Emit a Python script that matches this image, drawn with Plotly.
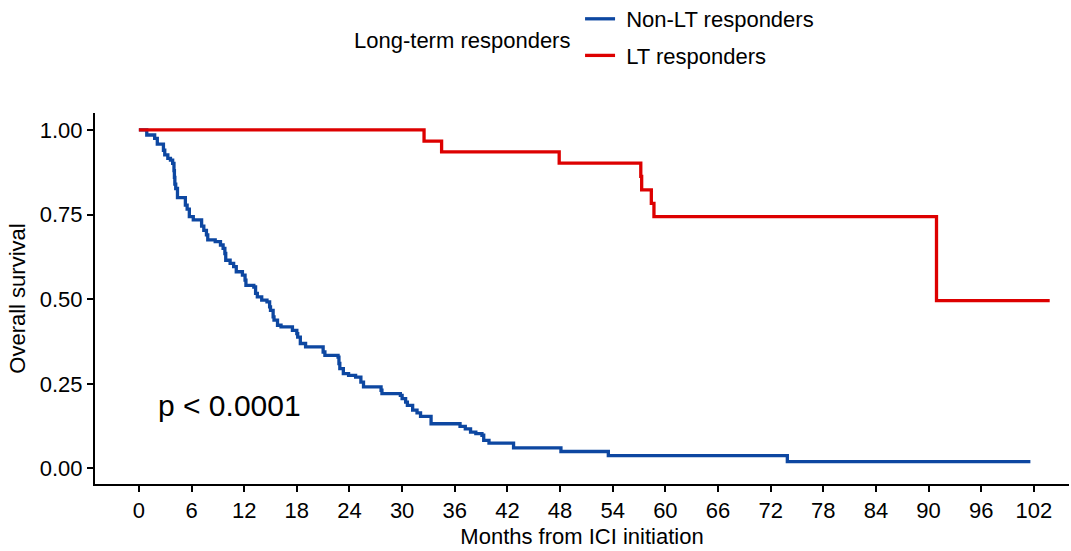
import plotly.graph_objects as go

# Kaplan-Meier step data
blue_time = [0, 0.9, 1.8, 2.1, 2.8, 2.95, 3.3, 3.6, 3.85, 4.0, 4.05, 4.1, 4.2, 4.4,
             5.3, 5.5, 5.75, 6.2, 7.15, 7.4, 7.7, 7.85, 8.7, 9.3, 9.6, 9.8, 9.9,
             10.4, 10.8, 11.1, 11.8, 12.1, 12.2, 13.1, 13.3, 13.5, 14.0, 14.6, 14.9,
             15.0, 15.3, 15.4, 15.8, 16.2, 17.5, 18.0, 18.1, 18.4, 19.0, 21.0, 21.2,
             22.7, 22.8, 22.9, 23.3, 23.9, 24.7, 25.3, 25.6, 27.6, 27.7, 29.8, 30.0,
             30.4, 30.6, 31.2, 31.7, 32.1, 33.3, 36.6, 37.2, 37.8, 38.4, 39.1, 39.3,
             39.9, 42.7, 48.1, 53.5, 73.9, 101.6]
blue_surv = [1.0, 0.985, 0.975, 0.958, 0.94, 0.926, 0.916, 0.911, 0.901, 0.88, 0.86, 0.84, 0.827, 0.80,
             0.778, 0.766, 0.744, 0.734, 0.716, 0.703, 0.69, 0.675, 0.67, 0.66, 0.65, 0.635, 0.615,
             0.606, 0.596, 0.581, 0.571, 0.556, 0.541, 0.536, 0.517, 0.507, 0.497, 0.492, 0.477,
             0.467, 0.448, 0.438, 0.423, 0.418, 0.408, 0.398, 0.388, 0.369, 0.359, 0.344, 0.334,
             0.329, 0.31, 0.295, 0.28, 0.275, 0.27, 0.255, 0.241, 0.231, 0.221, 0.216, 0.206,
             0.196, 0.186, 0.172, 0.164, 0.154, 0.132, 0.124, 0.117, 0.107, 0.103, 0.098, 0.083,
             0.075, 0.061, 0.050, 0.038, 0.020, 0.020]

red_time = [0, 32.5, 34.5, 47.9, 57.2, 57.3, 58.4, 58.7, 90.9, 103.8]
red_surv = [1.0, 0.967, 0.935, 0.902, 0.863, 0.823, 0.783, 0.744, 0.496, 0.496]

x_ticks = list(range(0, 103, 6))
y_ticks = [0.0, 0.25, 0.5, 0.75, 1.0]
y_tick_labels = ["0.00", "0.25", "0.50", "0.75", "1.00"]

FONT = "Liberation Sans, Arial, sans-serif"
BLUE = "#0D47A1"
RED = "#DD0000"

fig = go.Figure()
fig.add_trace(go.Scatter(x=blue_time, y=blue_surv, mode="lines", line_shape="hv",
                         line=dict(color=BLUE, width=3.3), name="\u00a0Non-LT responders",
                         legendgroup="a"))
fig.add_trace(go.Scatter(x=red_time, y=red_surv, mode="lines", line_shape="hv",
                         line=dict(color=RED, width=3.3), name="\u00a0LT responders",
                         legendgroup="b"))

fig.update_layout(
    width=1071, height=551,
    margin=dict(l=95, r=2, t=113, b=67, autoexpand=False),
    plot_bgcolor="white", paper_bgcolor="white",
    font=dict(family=FONT, size=22, color="black"),
    showlegend=True,
    legend=dict(xref="paper", yref="paper", x=0.498, y=(484 + 2) / 371,
                xanchor="left", yanchor="top", tracegroupgap=5,
                font=dict(size=22, color="black"), bgcolor="rgba(0,0,0,0)"),
    xaxis=dict(range=[-5.0, 106.0], tickvals=x_ticks, showline=True, linecolor="black",
               linewidth=2, ticks="outside", ticklen=6, tickwidth=2, tickcolor="black",
               showgrid=False, zeroline=False, tickangle=0,
               tickfont=dict(size=22, color="black"),
               title=dict(text="Months from ICI initiation", font=dict(size=22), standoff=6)),
    yaxis=dict(range=[-0.046, 1.05], tickvals=y_ticks, ticktext=y_tick_labels, showline=True,
               linecolor="black", linewidth=2, ticks="outside", ticklen=6, tickwidth=2,
               tickcolor="black", showgrid=False, zeroline=False,
               tickfont=dict(size=22, color="black"),
               title=dict(text="Overall survival", font=dict(size=22), standoff=8)),
)

fig.add_annotation(text="Long-term responders", xref="paper", yref="paper",
                   x=(462 - 95) / 974, y=(484 - 40) / 371,
                   xanchor="center", yanchor="middle",
                   showarrow=False, font=dict(size=22, color="black"))
fig.add_annotation(text="p < 0.0001", xref="x", yref="y", x=2.0, y=0.186,
                   xanchor="left", yanchor="middle", showarrow=False,
                   font=dict(size=30, color="black"))

fig.write_html("out.html")
